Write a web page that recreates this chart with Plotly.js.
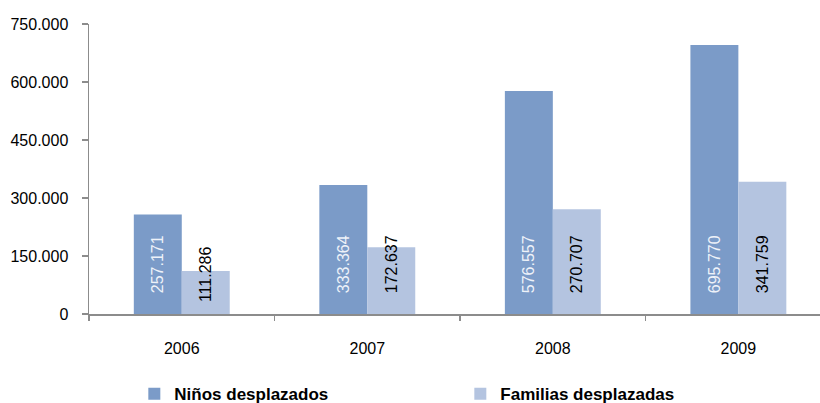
<!DOCTYPE html>
<html>
<head>
<meta charset="utf-8">
<script src="https://cdn.plot.ly/plotly-3.0.1.min.js"></script>
<style>html,body{margin:0;padding:0;background:#fff;}#chart{width:820px;height:403px;}</style>
</head>
<body>
<div id="chart"></div>
<script>
var years = ['2006', '2007', '2008', '2009'];
var ninos = [257171, 333364, 576557, 695770];
var familias = [111286, 172637, 270707, 341759];
var seriesNames = ['Niños desplazados', 'Familias desplazadas'];
var yTicks = [0, 150000, 300000, 450000, 600000, 750000];

var NB = '\u00a0';
function pad(n) { return NB.repeat(n); }

var trace1 = {
  type: 'bar', name: seriesNames[0], x: years, y: ninos,
  marker: {color: '#7b9bc8'},
  texttemplate: pad(4) + '%{y:,d}',
  textposition: 'inside', insidetextanchor: 'start', textangle: -90,
  constraintext: 'none',
  insidetextfont: {family: 'Liberation Sans, Arial, sans-serif', size: 16, color: '#eef2f9'},
  hoverinfo: 'skip'
};
var trace2 = {
  type: 'bar', name: seriesNames[1], x: years, y: familias,
  marker: {color: '#b4c4e0'},
  texttemplate: [pad(2) + '%{y:,d}', pad(4) + '%{y:,d}', pad(4) + '%{y:,d}', pad(4) + '%{y:,d}'],
  textposition: 'inside', insidetextanchor: 'start', textangle: -90,
  constraintext: 'none',
  insidetextfont: {family: 'Liberation Sans, Arial, sans-serif', size: 16, color: '#000000'},
  hoverinfo: 'skip'
};

var layout = {
  width: 820, height: 403,
  margin: {l: 89, r: 0, t: 24, b: 89, pad: 0},
  paper_bgcolor: '#ffffff', plot_bgcolor: '#ffffff',
  separators: ',.',
  barmode: 'group', bargap: 0.483, bargroupgap: 0,
  font: {family: 'Liberation Sans, Arial, sans-serif', size: 16, color: '#000000'},
  showlegend: true,
  legend: {
    orientation: 'h', x: 0.062, xanchor: 'left',
    yref: 'container', y: 0.022, yanchor: 'middle',
    font: {family: 'Liberation Sans, Arial, sans-serif', size: 17, color: '#000000', weight: 'bold'},
    entrywidth: 281, entrywidthmode: 'pixels', traceorder: 'normal',
    bgcolor: 'rgba(0,0,0,0)'
  },
  xaxis: {
    type: 'category', range: [-0.5, 3.44],
    showline: true, linecolor: '#8c8c8c', linewidth: 1.5,
    ticks: 'outside', tickson: 'boundaries', ticklen: 5, tickcolor: '#8c8c8c', tickwidth: 1.5,
    showgrid: false, zeroline: false,
    ticklabelstandoff: 19,
    tickfont: {size: 16, color: '#000000'},
    fixedrange: true
  },
  yaxis: {
    range: [0, 750000], tickvals: yTicks, tickformat: ',d',
    showline: true, linecolor: '#8c8c8c', linewidth: 1.5,
    ticks: 'outside', ticklen: 6, tickcolor: '#8c8c8c', tickwidth: 1.5,
    showgrid: false, zeroline: false,
    ticklabelstandoff: 10,
    tickfont: {size: 16, color: '#000000'},
    fixedrange: true
  }
};

Plotly.newPlot('chart', [trace1, trace2], layout, {displayModeBar: false, staticPlot: true});
</script>
</body>
</html>
